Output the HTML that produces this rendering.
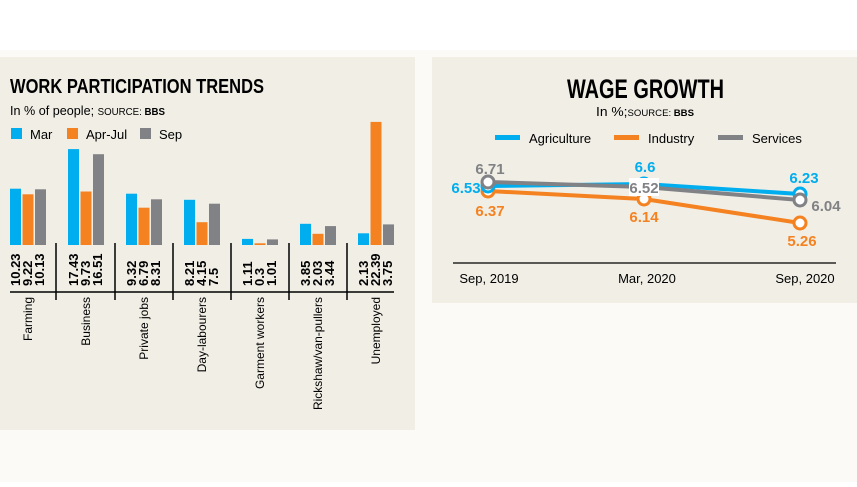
<!DOCTYPE html>
<html><head><meta charset="utf-8"><style>
body{margin:0;width:857px;height:482px;background:#fff;overflow:hidden;font-family:"Liberation Sans",sans-serif}
</style></head><body>
<svg width="857" height="482" xmlns="http://www.w3.org/2000/svg" font-family="Liberation Sans, sans-serif">
<rect x="0" y="0" width="857" height="482" fill="#fbfaf6"/>
<rect x="0" y="0" width="857" height="50" fill="#ffffff"/>
<rect x="0" y="57" width="415" height="373" fill="#f1eee6"/>
<rect x="432" y="57" width="425" height="246" fill="#f1eee6"/>
<text x="10" y="93" font-size="20" font-weight="bold" textLength="254" lengthAdjust="spacingAndGlyphs">WORK PARTICIPATION TRENDS</text>
<text x="10" y="115" font-size="13" textLength="155" lengthAdjust="spacingAndGlyphs">In % of people; <tspan font-size="10">SOURCE: </tspan><tspan font-size="10" font-weight="bold">BBS</tspan></text>
<rect x="11" y="128" width="11" height="11" fill="#00aeef"/><text x="30" y="139" font-size="13">Mar</text>
<rect x="67" y="128" width="11" height="11" fill="#f58220"/><text x="86" y="139" font-size="13">Apr-Jul</text>
<rect x="140" y="128" width="11" height="11" fill="#808285"/><text x="159" y="139" font-size="13">Sep</text>
<g>
<rect x="10" y="188.7" width="11" height="56.3" fill="#00aeef"/><rect x="22.5" y="194.3" width="11" height="50.7" fill="#f58220"/><rect x="35" y="189.3" width="11" height="55.7" fill="#808285"/>
<rect x="68" y="149.1" width="11" height="95.9" fill="#00aeef"/><rect x="80.5" y="191.5" width="11" height="53.5" fill="#f58220"/><rect x="93" y="154.2" width="11" height="90.8" fill="#808285"/>
<rect x="126" y="193.7" width="11" height="51.3" fill="#00aeef"/><rect x="138.5" y="207.7" width="11" height="37.3" fill="#f58220"/><rect x="151" y="199.3" width="11" height="45.7" fill="#808285"/>
<rect x="184" y="199.8" width="11" height="45.2" fill="#00aeef"/><rect x="196.5" y="222.2" width="11" height="22.8" fill="#f58220"/><rect x="209" y="203.7" width="11" height="41.3" fill="#808285"/>
<rect x="242" y="238.9" width="11" height="6.1" fill="#00aeef"/><rect x="254.5" y="243.3" width="11" height="1.7" fill="#f58220"/><rect x="267" y="239.4" width="11" height="5.6" fill="#808285"/>
<rect x="300" y="223.8" width="11" height="21.2" fill="#00aeef"/><rect x="312.5" y="233.8" width="11" height="11.2" fill="#f58220"/><rect x="325" y="226.1" width="11" height="18.9" fill="#808285"/>
<rect x="358" y="233.3" width="11" height="11.7" fill="#00aeef"/><rect x="370.5" y="121.9" width="11" height="123.1" fill="#f58220"/><rect x="383" y="224.4" width="11" height="20.6" fill="#808285"/>
</g>
<line x1="10" y1="292" x2="394" y2="292" stroke="#000" stroke-width="1.5"/>
<g stroke="#000" stroke-width="1.5">
<line x1="56" y1="243" x2="56" y2="300"/><line x1="115" y1="243" x2="115" y2="300"/><line x1="173" y1="243" x2="173" y2="300"/><line x1="231" y1="243" x2="231" y2="300"/><line x1="289" y1="243" x2="289" y2="300"/><line x1="347" y1="243" x2="347" y2="300"/>
</g>
<g font-size="13" font-weight="bold">
<text transform="translate(20,286) rotate(-90)">10.23</text><text transform="translate(32,286) rotate(-90)">9.22</text><text transform="translate(44,286) rotate(-90)">10.13</text>
<text transform="translate(78,286) rotate(-90)">17.43</text><text transform="translate(90,286) rotate(-90)">9.73</text><text transform="translate(102,286) rotate(-90)">16.51</text>
<text transform="translate(136,286) rotate(-90)">9.32</text><text transform="translate(148,286) rotate(-90)">6.79</text><text transform="translate(160,286) rotate(-90)">8.31</text>
<text transform="translate(194,286) rotate(-90)">8.21</text><text transform="translate(206,286) rotate(-90)">4.15</text><text transform="translate(218,286) rotate(-90)">7.5</text>
<text transform="translate(252,286) rotate(-90)">1.11</text><text transform="translate(264,286) rotate(-90)">0.3</text><text transform="translate(276,286) rotate(-90)">1.01</text>
<text transform="translate(310,286) rotate(-90)">3.85</text><text transform="translate(322,286) rotate(-90)">2.03</text><text transform="translate(334,286) rotate(-90)">3.44</text>
<text transform="translate(368,286) rotate(-90)">2.13</text><text transform="translate(380,286) rotate(-90)">22.39</text><text transform="translate(392,286) rotate(-90)">3.75</text>
</g>
<g font-size="12" text-anchor="end">
<text transform="translate(32,297) rotate(-90)">Farming</text>
<text transform="translate(90,297) rotate(-90)">Business</text>
<text transform="translate(148,297) rotate(-90)">Private jobs</text>
<text transform="translate(206,297) rotate(-90)">Day-labourers</text>
<text transform="translate(264,297) rotate(-90)">Garment workers</text>
<text transform="translate(322,297) rotate(-90)" textLength="113" lengthAdjust="spacingAndGlyphs">Rickshaw/van-pullers</text>
<text transform="translate(380,297) rotate(-90)">Unemployed</text>
</g>
<!-- right -->
<text x="567" y="98" font-size="27" font-weight="bold" textLength="157" lengthAdjust="spacingAndGlyphs">WAGE GROWTH</text>
<text x="596" y="116" font-size="13" textLength="98" lengthAdjust="spacingAndGlyphs">In %;<tspan font-size="9">SOURCE: </tspan><tspan font-size="9" font-weight="bold">BBS</tspan></text>
<rect x="495" y="135" width="25" height="5" fill="#00aeef"/><text x="529" y="143" font-size="13">Agriculture</text>
<rect x="614" y="135" width="25" height="5" fill="#f58220"/><text x="648" y="143" font-size="13">Industry</text>
<rect x="718" y="135" width="25" height="5" fill="#808285"/><text x="752" y="143" font-size="13">Services</text>
<polyline points="488,191 644,199 800,223" fill="none" stroke="#f58220" stroke-width="4"/>
<polyline points="488,186 644,184 800,194" fill="none" stroke="#00aeef" stroke-width="4"/>
<polyline points="488,182 644,187 800,200" fill="none" stroke="#808285" stroke-width="4"/>
<g fill="#fff" stroke-width="3">
<circle cx="488" cy="191" r="6" stroke="#f58220"/><circle cx="644" cy="199" r="6" stroke="#f58220"/><circle cx="800" cy="223" r="6" stroke="#f58220"/>
<circle cx="488" cy="186" r="6" stroke="#00aeef"/><circle cx="644" cy="184" r="6" stroke="#00aeef"/><circle cx="800" cy="194" r="6" stroke="#00aeef"/>
<circle cx="488" cy="182" r="6" stroke="#808285"/><circle cx="800" cy="200" r="6" stroke="#808285"/>
</g>
<rect x="629" y="178" width="30" height="18" fill="#fff"/>
<g font-size="15" font-weight="bold" text-anchor="middle">
<text x="490" y="174" fill="#808285">6.71</text>
<text x="466" y="193" fill="#00aeef">6.53</text>
<text x="490" y="216" fill="#f58220">6.37</text>
<text x="645" y="172" fill="#00aeef">6.6</text>
<text x="644" y="193" fill="#808285">6.52</text>
<text x="644" y="222" fill="#f58220">6.14</text>
<text x="804" y="183" fill="#00aeef">6.23</text>
<text x="826" y="211" fill="#808285">6.04</text>
<text x="802" y="246" fill="#f58220">5.26</text>
</g>
<line x1="453" y1="263" x2="836" y2="263" stroke="#000" stroke-width="1.2"/>
<g font-size="13" text-anchor="middle">
<text x="489" y="283">Sep, 2019</text><text x="647" y="283">Mar, 2020</text><text x="805" y="283">Sep, 2020</text>
</g>
</svg>
</body></html>
